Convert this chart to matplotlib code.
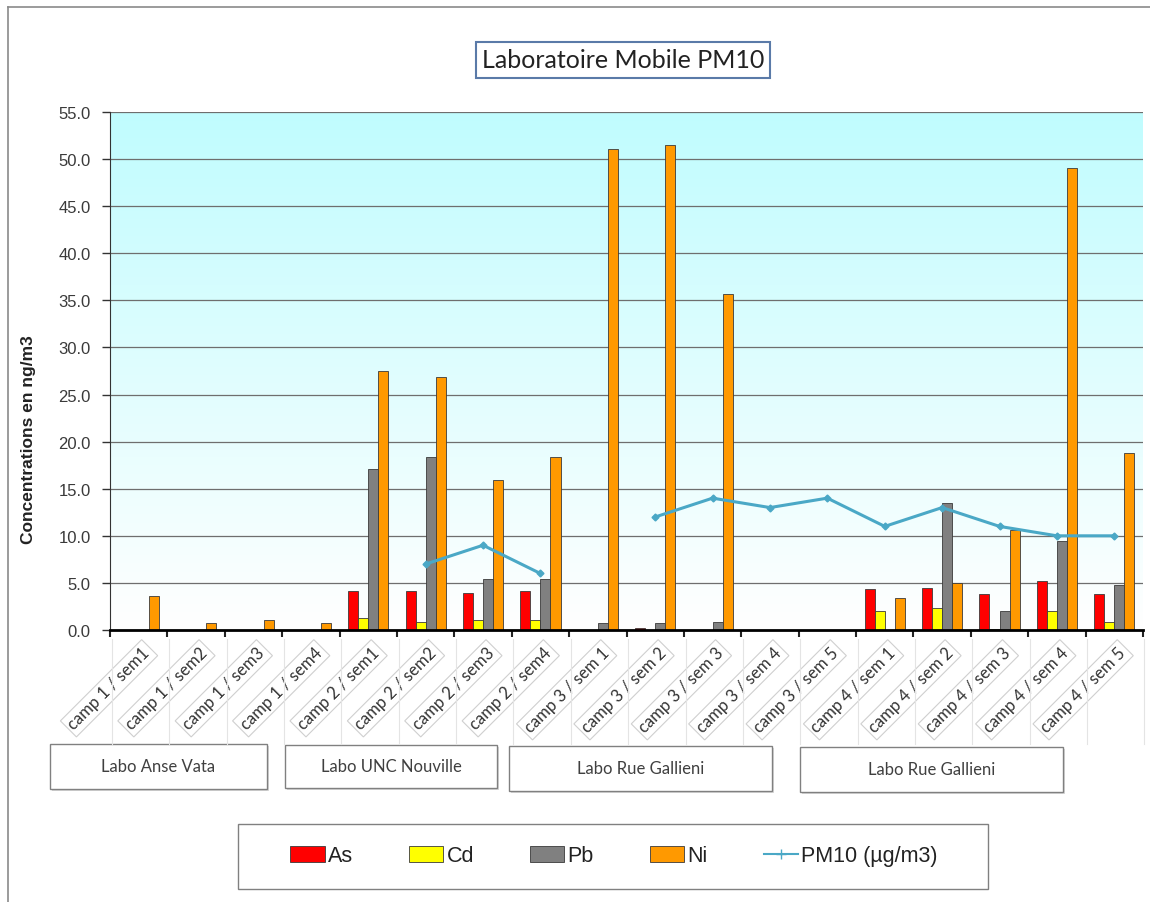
import numpy as np
import matplotlib
matplotlib.use("Agg")
import matplotlib.pyplot as plt
from matplotlib.patches import Rectangle, Patch
from matplotlib.lines import Line2D
from matplotlib.colors import LinearSegmentedColormap
from matplotlib.transforms import blended_transform_factory

# data
categories = [
    "camp 1 / sem1", "camp 1 / sem2", "camp 1 / sem3", "camp 1 / sem4",
    "camp 2 / sem1", "camp 2 / sem2", "camp 2 / sem3", "camp 2 / sem4",
    "camp 3 / sem 1", "camp 3 / sem 2", "camp 3 / sem 3", "camp 3 / sem 4", "camp 3 / sem 5",
    "camp 4 / sem 1", "camp 4 / sem 2", "camp 4 / sem 3", "camp 4 / sem 4", "camp 4 / sem 5",
]
As = [0, 0, 0, 0, 4.1, 4.1, 3.9, 4.1, 0, 0.2, 0, 0, 0, 4.4, 4.5, 3.8, 5.2, 3.8]
Cd = [0, 0, 0, 0, 1.3, 0.8, 1.1, 1.1, 0, 0, 0, 0, 0, 2.0, 2.3, 0.1, 2.0, 0.9]
Pb = [0, 0, 0, 0, 17.1, 18.4, 5.4, 5.4, 0.7, 0.7, 0.8, 0, 0, 0, 13.5, 2.0, 9.5, 4.8]
Ni = [3.6, 0.7, 1.1, 0.7, 27.5, 26.9, 15.9, 18.4, 51.1, 51.5, 35.7, 0, 0, 3.4, 5.0, 10.6, 49.1, 18.8]
PM10 = [np.nan, np.nan, np.nan, np.nan, np.nan, 7, 9, 6,
        np.nan, 12, 14, 13, 14, 11, 13, 11, 10, 10]
groups = ["Labo Anse Vata", "Labo UNC Nouville", "Labo Rue Gallieni", "Labo Rue Gallieni"]

series = [("As", As, "#ff0000"), ("Cd", Cd, "#ffff00"), ("Pb", Pb, "#808080"), ("Ni", Ni, "#ff9900")]

W, H = 1150, 903
fig = plt.figure(figsize=(W / 100, H / 100), dpi=100)
fig.patch.set_facecolor("white")

def fx(px):
    return px / W

def fy(py):
    return 1 - py / H

ax = fig.add_axes([fx(110), fy(631), fx(1143 - 110), (631 - 113) / H])
n = len(categories)
x = np.arange(n)

# gradient background
cmap = LinearSegmentedColormap.from_list("bg", ["#ffffff", "#c0fcfe"])
grad = np.linspace(0, 1, 256)[:, None]
ax.imshow(grad, extent=[-0.5, n - 0.5, 0, 55], aspect="auto", cmap=cmap,
          origin="lower", zorder=0)

ax.set_xlim(-0.5, n - 0.5)
ax.set_ylim(0, 55)
ax.set_yticks(np.arange(0, 56, 5))
ax.set_yticklabels([f"{v:.1f}" for v in np.arange(0, 56, 5)],
                   fontsize=12, color="#3a3a3a", family="Liberation Sans")
for v in np.arange(5, 56, 5):
    ax.axhline(v, color="#6e6e6e", lw=0.9, zorder=1)

ax.set_xticks(np.arange(n + 1) - 0.5)
ax.set_xticklabels([])
ax.tick_params(axis="x", direction="out", length=5, width=1.5, color="#222222")
ax.tick_params(axis="y", direction="out", length=6, width=1, color="#333333", pad=8)
for s in ["top", "right"]:
    ax.spines[s].set_visible(False)
ax.spines["bottom"].set_linewidth(2)
ax.spines["bottom"].set_zorder(5)
ax.spines["left"].set_color("#333333")

w = 0.175
for j, (name, vals, col) in enumerate(series):
    ax.bar(x + (j - 1.5) * w, vals, w, color=col, edgecolor="#3a3a3a",
           linewidth=0.6, zorder=3)

ax.plot(x, PM10, color="#4aa8c6", lw=2.2, marker="D", ms=3.5, zorder=4)

# rotated category labels
for k in range(n + 1):
    fig.add_artist(Line2D([fx(112 + 57.35 * k)] * 2, [fy(640), fy(745)],
                          color="#e4e4e4", lw=0.8))
tr = blended_transform_factory(ax.transData, fig.transFigure)
for i, lab in enumerate(categories):
    ax.text(i + 0.15, fy(651), lab, transform=tr, rotation=45,
            rotation_mode="anchor", ha="right", va="center",
            fontsize=12, family="Lato", color="#333333", clip_on=False,
            bbox=dict(boxstyle="square,pad=0.2", fc="white", ec="#cfcfcf", lw=0.8))

# group boxes
boxes = [(50, 745, 267, 790), (285, 746, 497, 789), (509, 747, 772, 792), (800, 748, 1063, 793)]
for name, (x0, y0, x1, y1) in zip(groups, boxes):
    fig.add_artist(Rectangle((fx(x0 + 2), fy(y1 + 2)), fx(x1 - x0), (y1 - y0) / H,
                             fc="#d8d8d8", ec="none", transform=fig.transFigure))
    fig.add_artist(Rectangle((fx(x0), fy(y1)), fx(x1 - x0), (y1 - y0) / H,
                             fc="white", ec="#808080", lw=1, transform=fig.transFigure))
    fig.text(fx((x0 + x1) / 2), fy((y0 + y1) / 2), name, ha="center", va="center",
             fontsize=12, family="Lato", color="#404040")

# title
fig.text(fx(623), fy(61), "Laboratoire Mobile PM10", ha="center", va="center",
         fontsize=18, family="Lato", color="#222222",
         bbox=dict(boxstyle="square,pad=0.25", fc="white", ec="#5a7aa8", lw=1.5))

# y label
fig.text(fx(29), fy(440), "Concentrations en ng/m3", rotation=90, ha="center",
         va="center", fontsize=12.5, fontweight="bold", family="Liberation Sans",
         color="#222222")

# legend
handles = [Patch(fc=c, ec="#3a3a3a", lw=0.6) for _, _, c in series]
handles.append(Line2D([], [], color="#4aa8c6", lw=1.5, marker="+", ms=7))
labels = [s[0] for s in series] + ["PM10 (\u00b5g/m3)"]
fig.add_artist(Rectangle((fx(238), fy(890)), fx(750), 65 / H, fc="white",
                         ec="#808080", lw=1, transform=fig.transFigure))
leg = fig.legend(handles, labels, loc="center", bbox_to_anchor=(fx(614), fy(857)),
                 ncol=5, frameon=False, handlelength=1.6,
                 handleheight=0.7, handletextpad=0.15, columnspacing=2.6,
                 prop={"family": "Liberation Sans", "size": 15.5})
for t in leg.get_texts():
    t.set_color("#222222")

# outer chart border
fig.add_artist(Line2D([fx(8), fx(8)], [0, fy(8)], color="#8a8a8a", lw=1.2))
fig.add_artist(Line2D([fx(8), 1], [fy(8), fy(8)], color="#8a8a8a", lw=1.2))

fig.savefig("out.png", dpi=100)
